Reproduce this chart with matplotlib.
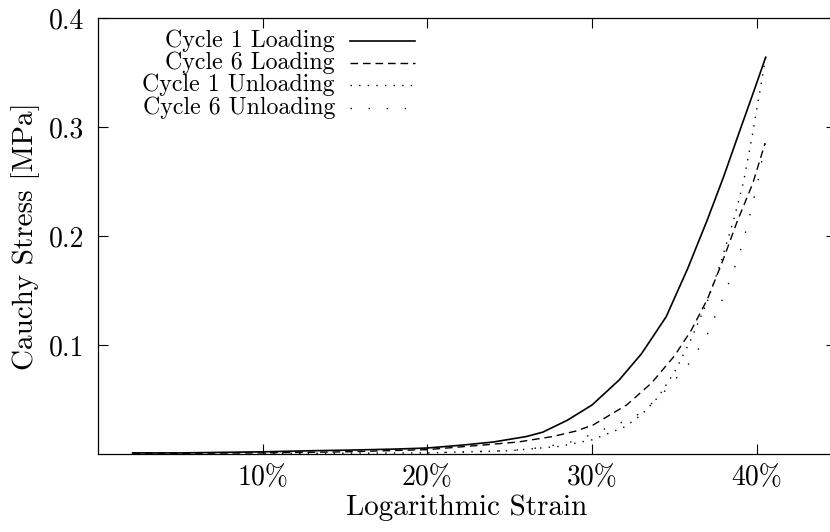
import matplotlib
matplotlib.use("Agg")
import matplotlib.pyplot as plt
from matplotlib.ticker import FuncFormatter

plt.rcParams['font.family'] = ['cmr10', 'DejaVu Serif']
plt.rcParams['mathtext.fontset'] = 'cm'
plt.rcParams['axes.formatter.use_mathtext'] = True

# logarithmic strain (fraction) / Cauchy stress (MPa)
load1_strain = [0.021, 0.05, 0.10, 0.13, 0.15, 0.18, 0.20, 0.22, 0.24, 0.26, 0.27, 0.285,
                0.30, 0.3165, 0.33, 0.345, 0.358, 0.37, 0.38, 0.39, 0.398, 0.4054]
load1_stress = [0.001, 0.001, 0.002, 0.003, 0.0035, 0.0045, 0.0055, 0.008, 0.011, 0.016, 0.020, 0.031,
                0.045, 0.068, 0.092, 0.126, 0.170, 0.215, 0.255, 0.298, 0.332, 0.364]

load6_strain = [0.021, 0.10, 0.15, 0.20, 0.232, 0.255, 0.276, 0.29, 0.3006, 0.321, 0.336,
                0.35, 0.36, 0.37, 0.3795, 0.388, 0.3975, 0.405]
load6_stress = [0.0005, 0.001, 0.002, 0.004, 0.008, 0.011, 0.016, 0.021, 0.0266, 0.045, 0.065,
                0.09, 0.113, 0.142, 0.178, 0.213, 0.248, 0.285]

unload1_strain = [0.4054, 0.401, 0.397, 0.392, 0.386, 0.378, 0.37, 0.36, 0.35, 0.34, 0.33,
                  0.32, 0.30, 0.28, 0.25, 0.20, 0.10]
unload1_stress = [0.364, 0.325, 0.29, 0.25, 0.215, 0.175, 0.14, 0.105, 0.075, 0.052, 0.036,
                  0.025, 0.013, 0.007, 0.003, 0.001, 0.0005]

unload6_strain = [0.405, 0.4007, 0.394, 0.389, 0.38, 0.37, 0.36, 0.345, 0.331, 0.323, 0.306,
                  0.29, 0.27, 0.25, 0.20]
unload6_stress = [0.285, 0.25, 0.208, 0.181, 0.145, 0.11, 0.085, 0.059, 0.039, 0.032, 0.022,
                  0.012, 0.006, 0.003, 0.001]

x_ticks = [0.1, 0.2, 0.3, 0.4]
y_ticks = [0.1, 0.2, 0.3, 0.4]

series = [
    ("Cycle 1 Loading", load1_strain, load1_stress, dict(linestyle='-', lw=1.2)),
    ("Cycle 6 Loading", load6_strain, load6_stress, dict(linestyle=(0, (5.5, 3.5)), lw=1.0)),
    ("Cycle 1 Unloading", unload1_strain, unload1_stress, dict(linestyle=(0, (1, 5.2)), lw=1.0)),
    ("Cycle 6 Unloading", unload6_strain, unload6_stress, dict(linestyle=(0, (1, 12)), lw=1.0)),
]

fig = plt.figure(figsize=(8.30, 5.32), dpi=100)
ax = fig.add_axes([98 / 830, 78 / 532, 738 / 830, 436 / 532])

for name, xs, ys, style in series:
    ax.plot(xs, ys, color='black', **style)

ax.set_xlim(0, 738 / 1647)
ax.set_ylim(0, 0.4)
ax.set_xticks(x_ticks)
ax.set_yticks(y_ticks)
ax.xaxis.set_major_formatter(FuncFormatter(lambda v, p: "%d%%" % round(v * 100)))
ax.yaxis.set_major_formatter(FuncFormatter(lambda v, p: "%.1f" % v))
ax.tick_params(direction='in', length=7.5, width=0.8, top=True, right=True,
               labelsize=20)
ax.tick_params(axis='y', pad=10)
ax.tick_params(axis='x', pad=8)
for s in ax.spines.values():
    s.set_linewidth(0.9)

ax.set_xlabel("Logarithmic Strain", fontsize=21, labelpad=2)
ax.set_ylabel("Cauchy Stress [MPa]", fontsize=21, labelpad=6)

# gnuplot-like key: labels right-aligned, samples to the right
key_y = [0.947, 0.897, 0.846, 0.794]
for (name, xs, ys, style), yk in zip(series, key_y):
    ax.text(0.321, yk, name, transform=ax.transAxes, ha='right', va='center', fontsize=17.2)
    ax.plot([0.3415, 0.429], [yk, yk], transform=ax.transAxes, color='black', **style)

fig.savefig("out.png", dpi=100)
